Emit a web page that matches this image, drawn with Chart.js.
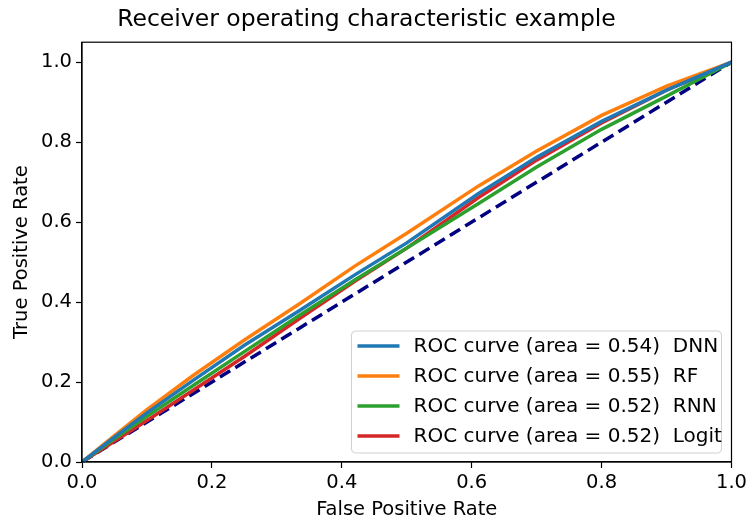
<!DOCTYPE html>
<html>
<head>
<meta charset="utf-8">
<script src="https://cdn.jsdelivr.net/npm/chart.js@4"></script>
<style>
  body { margin: 0; background: #fff; }
  #wrap { width: 750px; height: 522px; }
</style>
</head>
<body>
<div id="wrap"><canvas id="rocChart" width="750" height="522"></canvas></div>
<script>
// false positive rate points shared by the curves
const fpr = [0, 0.05, 0.1, 0.17, 0.25, 0.335, 0.42, 0.5, 0.61, 0.7, 0.8, 0.9, 1];
const tprDNN = [0, 0.062, 0.123, 0.203, 0.292, 0.379, 0.468, 0.548, 0.671, 0.762, 0.852, 0.93, 1];
const tprRF = [0, 0.066, 0.131, 0.215, 0.305, 0.396, 0.49, 0.572, 0.69, 0.778, 0.867, 0.94, 1];
const tprRNN = [0, 0.058, 0.114, 0.19, 0.276, 0.367, 0.455, 0.535, 0.646, 0.738, 0.832, 0.915, 1];
const tprLogit = [0, 0.052, 0.104, 0.178, 0.264, 0.359, 0.452, 0.535, 0.661, 0.755, 0.848, 0.93, 1];
const chanceX = [0, 1];
const chanceY = [0, 1];
const labels = [
    'ROC curve (area = 0.54)  DNN',
    'ROC curve (area = 0.55)  RF',
    'ROC curve (area = 0.52)  RNN',
    'ROC curve (area = 0.52)  Logit'
];
const xTicks = [0, 0.2, 0.4, 0.6, 0.8, 1.0];
const yTicks = [0, 0.2, 0.4, 0.6, 0.8, 1.0];

function toPoints(xs, ys) {
    return xs.map((x, i) => ({ x: x, y: ys[i] }));
}

const FONT = 'DejaVu Sans';
const FS = 19.5;

// frame round the plot area
const framePlugin = {
    id: 'frame',
    afterDraw(chart) {
        const a = chart.chartArea;
        const ctx = chart.ctx;
        ctx.save();
        ctx.strokeStyle = '#000';
        ctx.lineWidth = 1.2;
        ctx.strokeRect(a.left, a.top, a.right - a.left, a.bottom - a.top);
        ctx.restore();
    }
};

// legend drawn inside the plot, lower right
const boxLegend = {
    id: 'boxLegend',
    afterDraw(chart) {
        const ctx = chart.ctx;
        const a = chart.chartArea;
        const items = chart.data.datasets.filter(d => d.showInLegend);
        const w = 370, rowH = 30, h = items.length * rowH + 2;
        const x = a.right - 10 - w, y = a.bottom - 9 - h;
        ctx.save();
        ctx.beginPath();
        ctx.roundRect(x, y, w, h, 4);
        ctx.fillStyle = 'rgba(255,255,255,0.8)';
        ctx.fill();
        ctx.strokeStyle = '#d0d0d0';
        ctx.lineWidth = 1;
        ctx.stroke();
        ctx.font = '20px "' + FONT + '"';
        ctx.textBaseline = 'middle';
        items.forEach((d, i) => {
            const cy = y + 15 + i * rowH;
            ctx.strokeStyle = d.borderColor;
            ctx.lineWidth = 3.5;
            ctx.beginPath();
            ctx.moveTo(x + 6, cy);
            ctx.lineTo(x + 48, cy);
            ctx.stroke();
            ctx.fillStyle = '#000';
            ctx.fillText(d.label, x + 62, cy + 1);
        });
        ctx.restore();
    }
};

const colors = ['#1f77b4', '#ff7f0e', '#2ca02c', '#d62728'];
const series = [tprDNN, tprRF, tprRNN, tprLogit];

const datasets = series.map((s, i) => ({
    label: labels[i],
    data: toPoints(fpr, s),
    borderColor: colors[i],
    borderWidth: 3.5,
    pointRadius: 0,
    tension: 0,
    fill: false,
    showInLegend: true
}));
datasets.push({
    label: 'chance',
    data: toPoints(chanceX, chanceY),
    borderColor: '#000080',
    borderWidth: 3.5,
    borderDash: [12, 6],
    pointRadius: 0,
    fill: false,
    showInLegend: false
});

new Chart(document.getElementById('rocChart').getContext('2d'), {
    type: 'line',
    data: { datasets: datasets },
    plugins: [framePlugin, boxLegend],
    options: {
        responsive: false,
        animation: false,
        layout: { padding: { left: 0, right: 17, top: 0, bottom: 0 } },
        plugins: {
            legend: { display: false },
            tooltip: { enabled: false },
            title: {
                display: true,
                text: 'Receiver operating characteristic example',
                color: '#000',
                font: { family: FONT, size: 23.5, weight: 'normal' },
                padding: { top: 6, bottom: 8 }
            }
        },
        scales: {
            x: {
                type: 'linear',
                min: 0,
                max: 1,
                afterBuildTicks: s => { s.ticks = xTicks.map(v => ({ value: v })); },
                afterFit: s => { s.height = 60; },
                grid: { drawOnChartArea: false, drawTicks: true, tickLength: 6, color: '#000', tickWidth: 1.2 },
                border: { display: true, color: '#000', width: 1.2 },
                ticks: {
                    color: '#000',
                    padding: 3,
                    font: { family: FONT, size: FS },
                    maxRotation: 0,
                    callback: v => v.toFixed(1)
                },
                title: {
                    display: true,
                    text: 'False Positive Rate',
                    color: '#000',
                    font: { family: FONT, size: FS },
                    padding: { top: 0, bottom: 0 }
                }
            },
            y: {
                type: 'linear',
                min: 0,
                max: 1.05,
                afterBuildTicks: s => { s.ticks = yTicks.map(v => ({ value: v })); },
                afterFit: s => { s.width = 82; },
                grid: { drawOnChartArea: false, drawTicks: true, tickLength: 6, color: '#000', tickWidth: 1.2 },
                border: { display: true, color: '#000', width: 1.2 },
                ticks: {
                    color: '#000',
                    padding: 4,
                    font: { family: FONT, size: FS },
                    callback: v => v.toFixed(1)
                },
                title: {
                    display: true,
                    text: 'True Positive Rate',
                    color: '#000',
                    font: { family: FONT, size: FS },
                    padding: { top: 10, bottom: 6 }
                }
            }
        }
    }
});
</script>
</body>
</html>
